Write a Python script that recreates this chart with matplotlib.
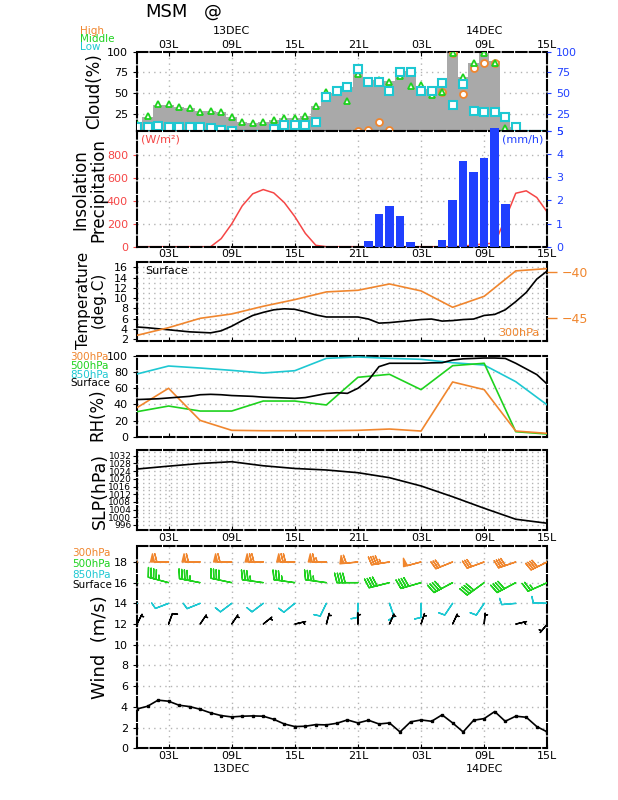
import numpy as np
import matplotlib
matplotlib.use('Agg')
import matplotlib.pyplot as plt
from matplotlib import transforms

# hours from 00L 13DEC to 15L 14DEC
hours = np.arange(40)
hours_b = np.arange(0, 40, 3)
xticks = [3, 9, 15, 21, 27, 33, 39]
xlabels = ['03L', '09L', '15L', '21L', '03L', '09L', '15L']
dates = ['13DEC', '14DEC']
date_pos = [9, 33]

# cloud (%)
cld_total = [14, 22, 36, 36, 33, 32, 29, 29, 28, 22, 15, 14, 15, 18, 20, 20, 23, 35, 50, 55,
             57, 80, 66, 66, 65, 77, 77, 59, 55, 61, 100, 69, 87, 99, 89, 22, 10, 0, 0, 0]
cld_high = [0, 0, 0, 0, 0, 0, 0, 0, 0, 0, 0, 0, 0, 0, 0, 0, 0, 0, 0, 0,
            0, 5, 6, 15, 6, 0, 0, 0, 0, 52, 99, 49, 80, 87, 87, 0, 0, 0, 0, 0]
cld_mid = [13, 23, 37, 37, 33, 32, 28, 29, 28, 22, 15, 14, 15, 18, 20, 20, 23, 35, 51, 53,
           41, 73, 63, 66, 63, 71, 59, 60, 48, 51, 99, 69, 87, 99, 86, 8, 0, 0, 0, 0]
cld_low = [9, 9, 11, 9.5, 10, 9.5, 9.5, 8, 6, 4.5, 0, 0, 0, 7, 11.5, 11.5, 12, 15, 46, 53,
           57, 79, 63, 63, 53, 76, 76, 53, 53, 62, 36, 61, 29, 28, 27, 22, 9, 0, 0, 0]

# insolation (W/m2) and precipitation (mm/h)
insol = [0, 0, 0, 0, 0, 0, 0, 0, 70, 198, 355, 460, 497, 468, 384, 262, 116, 12, 0, 0,
         0, 0, 0, 0, 0, 0, 0, 0, 0, 0, 0, 5, 15, 25, 30, 240, 465, 486, 428, 300]
precip = [0, 0, 0, 0, 0, 0, 0, 0, 0, 0, 0, 0, 0, 0, 0, 0, 0, 0, 0, 0,
          0, 0, 0.25, 1.42, 1.76, 1.33, 0.2, 0, 0, 0.29, 2.02, 3.71, 3.24, 3.84, 5.1, 1.85, 0, 0, 0, 0]

# temperature
t_sfc = [4.35, 4.2, 4.0, 3.8, 3.6, 3.4, 3.3, 3.2, 3.6, 4.5, 5.6, 6.6, 7.2, 7.7, 7.9, 7.8, 7.3, 6.7, 6.3, 6.3,
         6.3, 6.3, 5.9, 5.1, 5.2, 5.4, 5.6, 5.8, 5.9, 5.5, 5.6, 5.8, 5.9, 6.6, 6.8, 7.7, 9.3, 11.1, 13.7, 15.3]
t_300 = [-46.9, -46.06, -45.04, -44.56, -43.72, -42.99, -42.15, -41.97, -41.28, -42.04, -43.83, -42.63, -39.85, -39.6]

# relative humidity (%)
rh_sfc = [46, 46.5, 47, 48, 49, 50, 52, 52.5, 52, 51, 50.5, 50, 49, 48.5, 48, 47.5, 48.5, 51, 53.5, 54.5,
          53.7, 60, 70, 86.8, 91, 91, 91, 91, 91.5, 91.7, 95, 96.5, 97, 97.5, 97.5, 97, 91, 84, 77, 65]
rh_850 = [77.7, 87.6, 85.1, 82.2, 78.9, 81.8, 97.1, 98.8, 97.1, 95.9, 91.7, 88.8, 68.2, 39.3]
rh_500 = [31, 38, 31.8, 31.8, 44.2, 44.2, 39.3, 73.6, 77.3, 58.3, 88, 91, 6.2, 3.3]
rh_300 = [36, 60, 20.2, 7.9, 7.4, 7.4, 7.4, 7.9, 9.5, 7, 67.8, 58.3, 7, 4.1]

# sea level pressure (hPa)
slp = [1025.1, 1026.6, 1028.0, 1028.9, 1026.8, 1025.4, 1024.6, 1023.2, 1020.6, 1016.3, 1010.7, 1004.7, 999.0, 996.9]

# surface wind speed (m/s)
wspd_sfc = [3.8, 4.06, 4.65, 4.55, 4.16, 4.03, 3.77, 3.42, 3.16, 3.03, 3.1, 3.13, 3.1, 2.8, 2.35, 2.1, 2.13,
            2.29, 2.26, 2.42, 2.74, 2.45, 2.71, 2.35, 2.45, 1.58, 2.55, 2.74, 2.61, 3.23, 2.45, 1.58, 2.71,
            2.87, 3.55, 2.61, 3.1, 3.0, 2.1, 1.58]

# wind barbs: direction (deg, from) and speed (knots)
dir300 = [270, 270, 270, 270, 270, 270, 270, 264, 261, 255, 248, 250, 251, 244]
spd300 = [60, 60, 60, 60, 70, 70, 65, 60, 45, 50, 30, 30, 40, 40]
dir500 = [285, 285, 281, 282, 278, 278, 278, 270, 256, 254, 242, 234, 242, 246]
spd500 = [45, 45, 45, 40, 35, 35, 35, 40, 40, 40, 40, 40, 40, 25]
dir850 = [249, 249, 248, 233, 233, 231, 206, 182, 161, 180, 214, 214, 265, 272]
spd850 = [10, 10, 10, 10, 10, 10, 10, 10, 10, 10, 10, 10, 10, 10]
dirsfc = [27, 20, 34, 34, 51, 77, 15, 0, 24, 18, 25, 5, 77, 220]

ORANGE = '#f0862e'
GREEN = '#1ed21e'
CYAN = '#1ec8d2'
RED = '#f54646'
BLUE = '#2040ff'
GRAY = '#a9a9a9'
GRID = '#b4b4b4'

plt.rcParams['font.family'] = 'DejaVu Sans'

fig = plt.figure(figsize=(6.18, 8), dpi=100)
L = 137 / 618.
W = (547.3 - 137) / 618.


def mkax(top, bottom):
    return fig.add_axes([L, 1 - bottom / 800., W, (bottom - top) / 800.])


def style(ax, vgrid=True, hticks=None):
    ax.set_xlim(0, 39)
    ax.set_xticks(xticks)
    for s in ax.spines.values():
        s.set_linestyle((0, (5, 1.5)))
        s.set_linewidth(1.5)
    ax.tick_params(axis='both', labelsize=8, length=3, width=0.8)
    ax.tick_params(axis='x', direction='in')
    if vgrid:
        for x in xticks[:-1]:
            ax.axvline(x, color=GRID, ls=(0, (1, 3)), lw=1, zorder=0.5)
    if hticks is not None:
        for y in hticks:
            ax.axhline(y, color=GRID, ls=(0, (1, 3)), lw=1, zorder=0.5)


def ylab(text, x, y, size):
    fig.text(x / 618., 1 - y / 800., text, rotation=90, ha='center', va='center',
             fontsize=size, linespacing=1.0)


def dates_on(ax, ypix):
    tr = transforms.blended_transform_factory(ax.transData, fig.transFigure)
    for d, p in zip(dates, date_pos):
        ax.text(p, 1 - ypix / 800., d, transform=tr, ha='center', va='center', fontsize=8)


# ---- cloud ----
ax1 = mkax(51.7, 130.7)
style(ax1, hticks=[25, 50, 75])
ax1.bar(hours, cld_total, width=1.0, color=GRAY, zorder=1)
ax1.plot(hours, cld_high, 'o', ms=5, mfc='white', mec=ORANGE, mew=1.3, zorder=3)
ax1.plot(hours, cld_mid, '^', ms=5, mfc='white', mec=GREEN, mew=1.3, zorder=4)
ax1.plot(hours, cld_low, 's', ms=5.5, mfc='white', mec=CYAN, mew=1.5, zorder=5)
ax1.set_ylim(5, 100)
ax1.set_yticks([25, 50, 75, 100])
ax1.xaxis.tick_top()
ax1.set_xticklabels(xlabels)
ax1.tick_params(axis='x', pad=1)
ax1r = ax1.twinx()
ax1r.set_ylim(5, 100)
ax1r.set_yticks([5, 25, 50, 75, 100])
ax1r.tick_params(axis='y', labelsize=8, colors=BLUE, length=3)
for s in ax1r.spines.values():
    s.set_visible(False)
dates_on(ax1, 30.5)
fig.text(80 / 618., 1 - 30.5 / 800., 'High', color=ORANGE, fontsize=7.5, va='center')
fig.text(80 / 618., 1 - 39 / 800., 'Middle', color=GREEN, fontsize=7.5, va='center')
fig.text(80 / 618., 1 - 47.5 / 800., 'Low', color=CYAN, fontsize=7.5, va='center')
fig.text(145 / 618., 1 - 12 / 800., 'MSM', fontsize=13, va='center')
fig.text(204 / 618., 1 - 12 / 800., '@', fontsize=13, va='center')
ylab('Cloud(%)', 94, 91, 12)

# ---- insolation / precipitation ----
ax2 = mkax(130.7, 246.7)
style(ax2, hticks=[200, 400, 600, 800])
ax2.plot(hours, insol, color=RED, lw=1.1, zorder=2)
ax2.set_ylim(0, 1009)
ax2.set_yticks([0, 200, 400, 600, 800])
ax2.tick_params(axis='y', colors=RED)
ax2.set_xticklabels(xlabels)
ax2.tick_params(axis='x', pad=2)
ax2r = ax2.twinx()
ax2r.bar(hours, precip, width=0.82, color=BLUE, zorder=3, clip_on=False)
ax2r.set_ylim(0, 5)
ax2r.set_yticks([0, 1, 2, 3, 4, 5])
ax2r.tick_params(axis='y', labelsize=8, colors=BLUE, length=3)
for s in ax2r.spines.values():
    s.set_visible(False)
ax2.text(0.01, 0.92, '(W/m²)', transform=ax2.transAxes, color=RED, fontsize=8, va='center')
ax2.text(0.99, 0.92, '(mm/h)', transform=ax2.transAxes, color=BLUE, fontsize=8, va='center', ha='right')
ylab('Insolation\nPrecipitation', 89, 190, 12)

# ---- temperature ----
ax3 = mkax(262.3, 341)
style(ax3, vgrid=False, hticks=range(3, 17))
ax3.plot(hours, t_sfc, color='black', lw=1.2, zorder=3)
ax3.set_ylim(1.61, 16.98)
ax3.set_yticks(range(2, 17, 2))
ax3.set_xticklabels([])
ax3r = ax3.twinx()
ax3r.plot(hours_b, t_300, color=ORANGE, lw=1.2, zorder=2)
ax3r.set_ylim(-47.52, -38.91)
ax3r.set_yticks([-45, -40])
ax3r.tick_params(axis='y', labelsize=9, colors=ORANGE, length=7, width=1)
for s in ax3r.spines.values():
    s.set_visible(False)
ax3.text(0.02, 0.89, 'Surface', transform=ax3.transAxes, fontsize=8, va='center')
ax3.text(0.98, 0.1, '300hPa', transform=ax3.transAxes, fontsize=8, va='center', ha='right', color=ORANGE)
ylab('Temperature\n(deg.C)', 91, 300, 11)

# ---- relative humidity ----
ax4 = mkax(356, 436.7)
style(ax4, vgrid=False, hticks=[20, 40, 60, 80])
ax4.plot(hours, rh_sfc, color='black', lw=1.2, zorder=4)
ax4.plot(hours_b, rh_850, color=CYAN, lw=1.2, zorder=3)
ax4.plot(hours_b, rh_500, color=GREEN, lw=1.2, zorder=3)
ax4.plot(hours_b, rh_300, color=ORANGE, lw=1.2, zorder=3)
ax4.set_ylim(0, 100)
ax4.set_yticks(range(0, 101, 20))
ax4.set_xticklabels([])
for lab, c, y in zip(['300hPa', '500hPa', '850hPa', 'Surface'], [ORANGE, GREEN, CYAN, 'black'],
                     [356.7, 365.7, 374.5, 383.3]):
    fig.text(70 / 618., 1 - y / 800., lab, color=c, fontsize=7.5, va='center')
ylab('RH(%)', 97, 415, 12)

# ---- sea level pressure ----
ax5 = mkax(450, 530)
style(ax5, hticks=range(996, 1035, 2))
ax5.plot(hours_b, slp, color='black', lw=1.2, zorder=3)
ax5.set_ylim(993.4, 1035)
ax5.set_yticks(range(996, 1033, 4))
ax5.tick_params(axis='y', labelsize=6.5, pad=1)
ax5.set_xticklabels(xlabels)
ax5.tick_params(axis='x', pad=2)
ylab('SLP(hPa)', 100, 491, 12.5)

# ---- wind ----
ax6 = mkax(545.7, 748.3)
style(ax6, hticks=range(2, 19, 2))
ax6.set_facecolor('white')
ax6.plot(hours, wspd_sfc, color='black', lw=1.2, marker='s', ms=2, zorder=3)
ax6.set_ylim(0, 19.57)
ax6.set_yticks(range(0, 19, 2))
ax6.set_xticklabels(xlabels)
ax6.tick_params(axis='x', pad=2)
dates_on(ax6, 768.5)


def uv(d, s):
    r = np.deg2rad(np.array(d, dtype=float))
    s = np.array(s, dtype=float)
    return -s * np.sin(r), -s * np.cos(r)


spdsfc = np.array(wspd_sfc)[::3] * 1.944
for lev_y, d, s, c, ln in [(18, dir300, spd300, ORANGE, 5.1), (16, dir500, spd500, GREEN, 5.5),
                           (14, dir850, spd850, CYAN, 4.5), (12, dirsfc, spdsfc, 'black', 4.0)]:
    u, v = uv(d, s)
    ax6.barbs(hours_b, np.full(len(hours_b), lev_y), u, v, length=ln, color=c, lw=1.0,
              sizes=dict(spacing=0.13, height=0.45, width=0.22), zorder=4)
for lab, c, y in zip(['300hPa', '500hPa', '850hPa', 'Surface'], [ORANGE, GREEN, CYAN, 'black'],
                     [553, 564, 574.5, 585]):
    fig.text(72 / 618., 1 - y / 800., lab, color=c, fontsize=7.5, va='center')
ylab('Wind  (m/s)', 100, 647, 13)

fig.savefig('out.png', dpi=100)
